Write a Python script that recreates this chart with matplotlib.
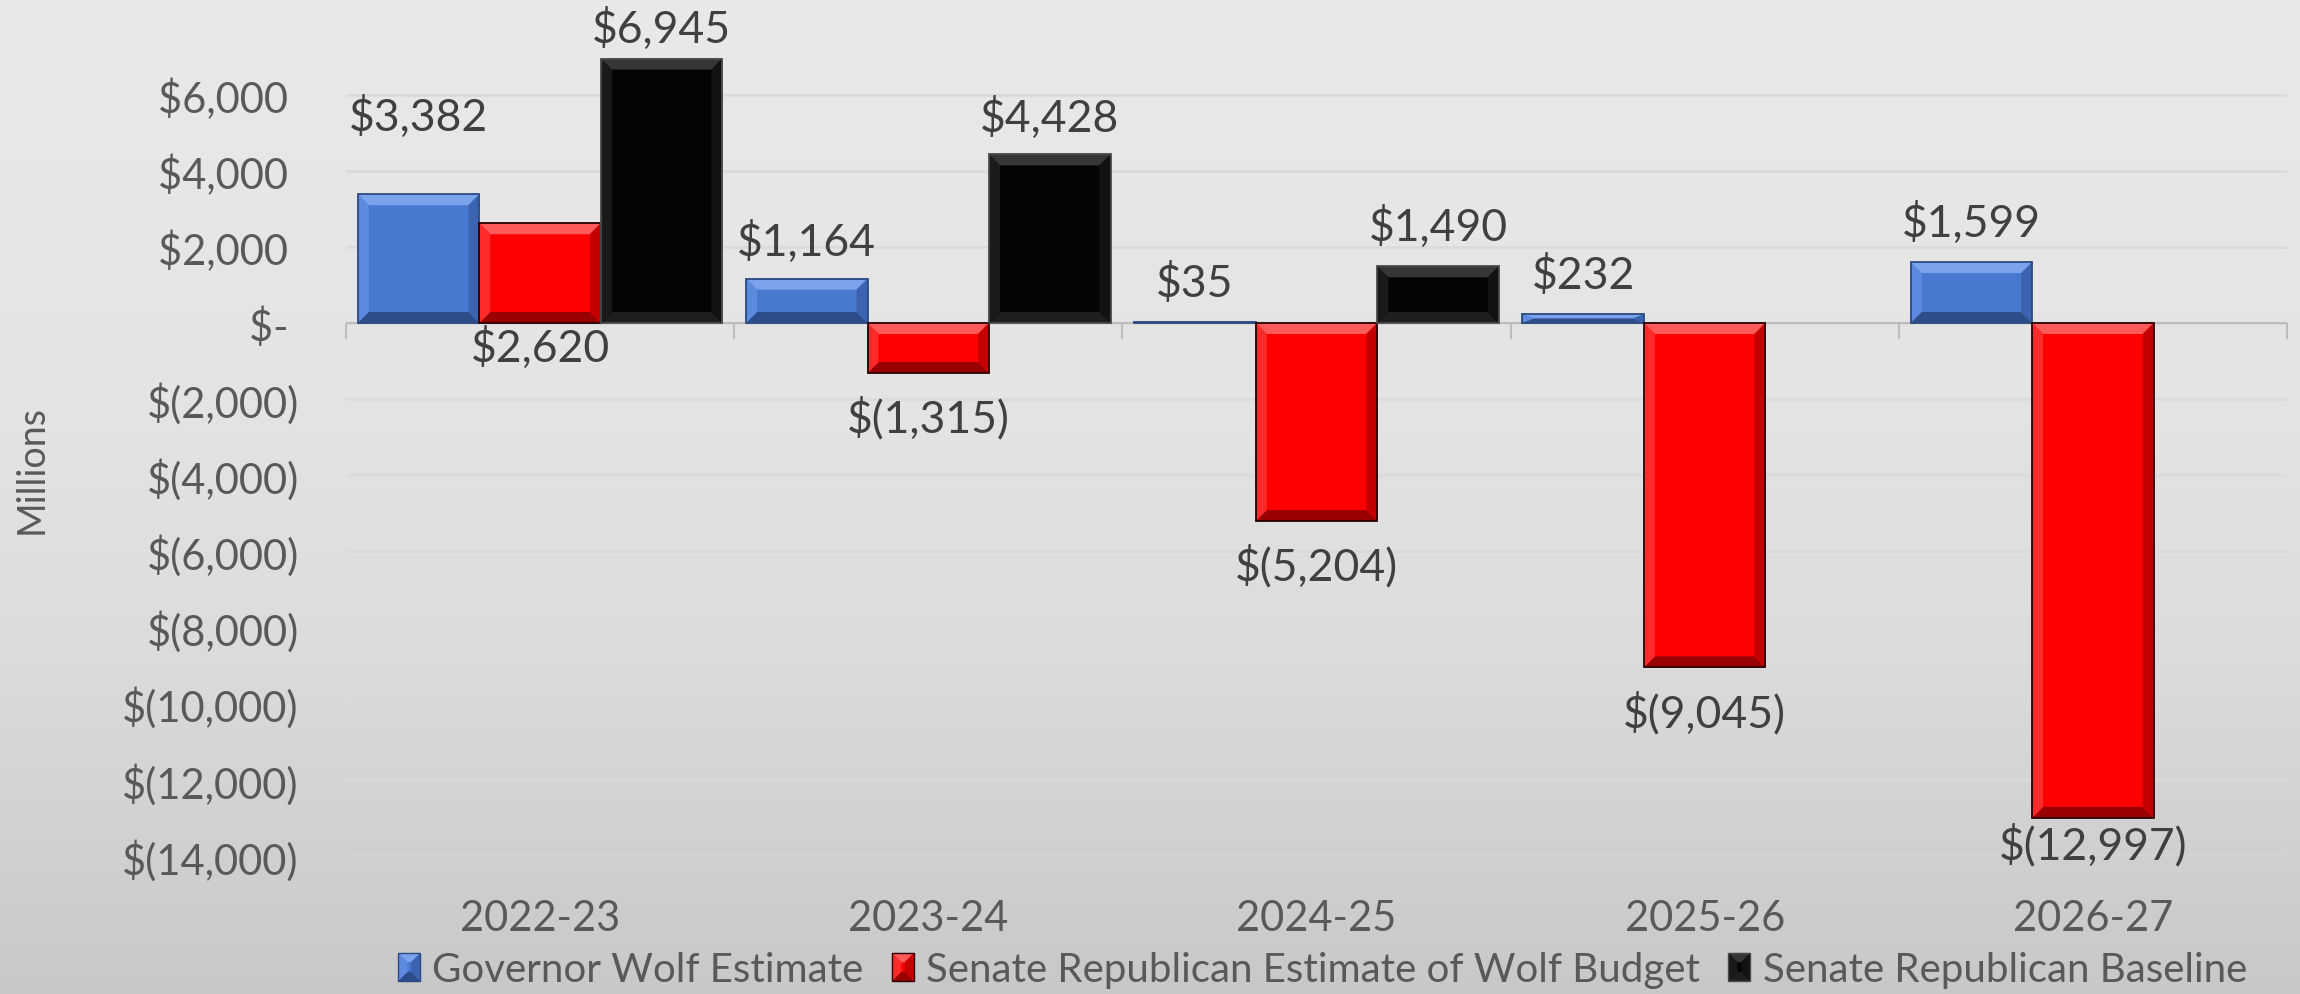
import numpy as np
import matplotlib
matplotlib.use("Agg")
import matplotlib.pyplot as plt
from matplotlib.patches import Polygon, Rectangle, Patch
from matplotlib.legend_handler import HandlerBase

# ---------------- data ----------------
categories = ["2022-23", "2023-24", "2024-25", "2025-26", "2026-27"]
series_names = ["Governor Wolf Estimate",
                "Senate Republican Estimate of Wolf Budget",
                "Senate Republican Baseline"]
governor = [3382, 1164, 35, 232, 1599]
senate_estimate = [2620, -1315, -5204, -9045, -12997]
senate_baseline = [6945, 4428, 1490, np.nan, np.nan]
yticks = [-14000, -12000, -10000, -8000, -6000, -4000, -2000, 0, 2000, 4000, 6000]

# label offsets from bar end, in pixels (+ = up)
gov_label_off = [78, 37, 39, 39, 40]
est_label_off = [-124, -45, -45, -45, -27]
base_label_off = [30, 37, 40, 0, 0]

# ---------------- style ----------------
FONT = ["Lato", "DejaVu Sans"]
plt.rcParams["font.family"] = FONT
AX_COL = "#595959"
LBL_COL = "#404040"

styles = [
    dict(face="#4878cf", edge="#2b4a80", top="#7aa3ec", bot="#2c4c8a", left="#5d8ade", right="#3b63b0"),
    dict(face="#ff0000", edge="#2a0000", top="#ff5a5a", bot="#9a0000", left="#ff2a2a", right="#c40000"),
    dict(face="#040404", edge="#4a4a4a", top="#363636", bot="#1e1e1e", left="#1a1a1a", right="#121212"),
]

W, H, DPI = 2300, 995, 100
fig = plt.figure(figsize=(W / DPI, H / DPI), dpi=DPI)

# background gradient
bg = fig.add_axes([0, 0, 1, 1], zorder=-10)
pos = np.linspace(0, 1, 400)
stops_p = [0.0, 0.40, 0.65, 1.0]
stops_v = [233, 228, 220, 200]
vals = np.interp(pos, stops_p, stops_v) / 255.0
grad = np.dstack([vals, vals, vals]).reshape(400, 1, 3)
bg.imshow(grad, aspect="auto", extent=[0, 1, 0, 1], origin="upper")
bg.set_axis_off()

ax_left, ax_right = 346, 2287
ax_bottom_px, ax_top_px = 857, 0
ax = fig.add_axes([ax_left / W, 1 - ax_bottom_px / H,
                   (ax_right - ax_left) / W, (ax_bottom_px - ax_top_px) / H])
ax.set_facecolor("none")
ymin, ymax = -14000, 8510
ax.set_ylim(ymin, ymax)
ax.set_xlim(-0.5, len(categories) - 0.5)

# pixel -> data conversions
px_x = len(categories) / (ax_right - ax_left)
px_y = (ymax - ymin) / (ax_bottom_px - ax_top_px)

x = np.arange(len(categories))
bw = 0.313
offsets = [-bw, 0.0, bw]
all_series = [governor, senate_estimate, senate_baseline]
all_offs = [gov_label_off, est_label_off, base_label_off]


def fmt_money(v):
    if v > 0:
        return f"${v:,.0f}"
    if v < 0:
        return f"$({-v:,.0f})"
    return "$-"


inset_px = 11
for si, (vals_s, st, loff) in enumerate(zip(all_series, styles, all_offs)):
    v = np.asarray(vals_s, dtype=float)
    ok = ~np.isnan(v)
    xs = x[ok] + offsets[si]
    bars = ax.bar(xs, v[ok], width=bw, color=st["face"], linewidth=0, zorder=3)
    for rect in bars.patches:
        x0 = rect.get_x()
        x1 = x0 + rect.get_width()
        ya, yb = rect.get_y(), rect.get_y() + rect.get_height()
        y0, y1 = min(ya, yb), max(ya, yb)
        ix = min(inset_px * px_x, (x1 - x0) / 2)
        iy = min(inset_px * px_y, (y1 - y0) / 2)
        polys = [
            ([(x0, y1), (x1, y1), (x1 - ix, y1 - iy), (x0 + ix, y1 - iy)], st["top"]),
            ([(x0, y0), (x1, y0), (x1 - ix, y0 + iy), (x0 + ix, y0 + iy)], st["bot"]),
            ([(x0, y0), (x0 + ix, y0 + iy), (x0 + ix, y1 - iy), (x0, y1)], st["left"]),
            ([(x1, y0), (x1 - ix, y0 + iy), (x1 - ix, y1 - iy), (x1, y1)], st["right"]),
        ]
        for pts, c in polys:
            ax.add_patch(Polygon(pts, closed=True, facecolor=c, edgecolor="none", zorder=4))
    ax.bar(xs, v[ok], width=bw, fill=False, edgecolor=st["edge"], linewidth=1.3, zorder=5)
    for xi, vi, oi in zip(xs, v[ok], np.asarray(loff)[ok]):
        ax.annotate(fmt_money(vi), xy=(xi, vi), xytext=(0, oi * 72 / DPI),
                    textcoords="offset points", ha="center", va="center",
                    fontsize=32, color=LBL_COL, zorder=6, annotation_clip=False)

# grid, zero line, category ticks
ax.set_yticks(yticks)
ax.set_yticklabels([fmt_money(t) + ("" if t < 0 else " ") for t in yticks])
ax.grid(axis="y", color="#dadada", linewidth=1.8, zorder=0)
ax.set_axisbelow(True)
ax.axhline(0, color="#bdbdbd", linewidth=1.5, zorder=2)
ax.vlines(np.arange(len(categories) + 1) - 0.5, 0, -16 * px_y,
          color="#bdbdbd", linewidth=1.5, zorder=2, clip_on=False)

ax.set_xticks(x)
ax.set_xticklabels(categories)
ax.tick_params(axis="x", length=0, pad=31, labelsize=30, labelcolor=AX_COL)
ax.tick_params(axis="y", length=0, pad=34, labelsize=30, labelcolor=AX_COL)
for s in ax.spines.values():
    s.set_visible(False)

fig.text(32 / W, 1 - 470 / H, "Millions", rotation=90, ha="center", va="center",
         fontsize=27, color=AX_COL)


# legend with bevelled squares
class BevelHandler(HandlerBase):
    def __init__(self, st):
        super().__init__()
        self.st = st

    def create_artists(self, legend, orig_handle, xdescent, ydescent, width, height,
                       fontsize, trans):
        st = self.st
        x0, y0 = -xdescent, -ydescent
        x1, y1 = x0 + width, y0 + height
        ix = 0.42 * width
        iy = 0.42 * width
        arts = [Rectangle((x0, y0), width, height, facecolor=st["face"],
                          edgecolor="none", transform=trans)]
        polys = [
            ([(x0, y1), (x1, y1), (x1 - ix, y1 - iy), (x0 + ix, y1 - iy)], st["top"]),
            ([(x0, y0), (x1, y0), (x1 - ix, y0 + iy), (x0 + ix, y0 + iy)], st["bot"]),
            ([(x0, y0), (x0 + ix, y0 + iy), (x0 + ix, y1 - iy), (x0, y1)], st["left"]),
            ([(x1, y0), (x1 - ix, y0 + iy), (x1 - ix, y1 - iy), (x1, y1)], st["right"]),
        ]
        for pts, c in polys:
            arts.append(Polygon(pts, closed=True, facecolor=c, edgecolor="none",
                                transform=trans))
        arts.append(Rectangle((x0, y0), width, height, fill=False,
                              edgecolor=st["edge"], linewidth=1.0, transform=trans))
        return arts


handles = [Patch(facecolor=st["face"]) for st in styles]
hmap = {h: BevelHandler(st) for h, st in zip(handles, styles)}
fig.legend(handles, series_names, handler_map=hmap, loc="center",
           bbox_to_anchor=(0.575, 0.0245), ncol=3, frameon=False, fontsize=29,
           handlelength=0.55, handleheight=0.7, handletextpad=0.3,
           columnspacing=0.7, labelcolor=AX_COL)

fig.savefig("out.png", dpi=DPI)
